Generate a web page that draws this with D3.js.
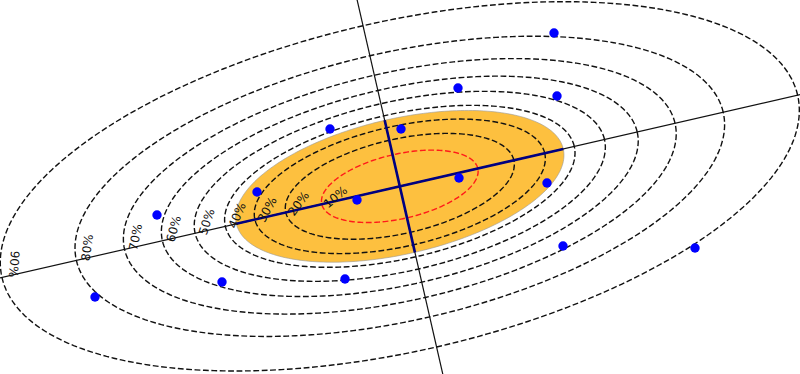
<!DOCTYPE html>
<html>
<head>
<meta charset="utf-8">
<script src="https://cdn.jsdelivr.net/npm/d3@7"></script>
<style>
  html, body { margin: 0; padding: 0; background: #fff; }
  svg { display: block; }
  .lbl { font-family: "DejaVu Sans", sans-serif; font-size: 12px; fill: #111; }
</style>
</head>
<body>
<div id="chart"></div>
<script>
// sample points (data units)
var xVals = [1.54, 0.58, 1.57, -0.70, 0.01, -1.43, 0.59, 1.47, -0.43, -2.43, 1.63, 2.95, -0.55, -1.78, -3.05];
var yVals = [1.53, 0.98, 0.90, 0.57, 0.57, -0.06, 0.08, 0.03, -0.14, -0.29, -0.60, -0.62, -0.93, -0.96, -1.11];
// prediction ellipse levels
var levels = [0.1, 0.2, 0.3, 0.4, 0.5, 0.6, 0.7, 0.8, 0.9];
var levelLabels = ["10%", "20%", "30%", "40%", "50%", "60%", "70%", "80%", "90%"];

var width = 800, height = 374;

var svg = d3.select("#chart").append("svg")
    .attr("width", width)
    .attr("height", height);

var x = d3.scaleLinear().domain([-4, 4]).range([0, width]);
var y = d3.scaleLinear().domain([-1.88, 1.86]).range([height, 0]);

// mean + covariance
var n = xVals.length;
var mx = d3.mean(xVals), my = d3.mean(yVals);
var sxx = 0, syy = 0, sxy = 0;
for (var i = 0; i < n; i++) {
  var dx = xVals[i] - mx, dy = yVals[i] - my;
  sxx += dx * dx; syy += dy * dy; sxy += dx * dy;
}
sxx /= (n - 1); syy /= (n - 1); sxy /= (n - 1);

var half = (sxx + syy) / 2;
var root = Math.sqrt(Math.pow((sxx - syy) / 2, 2) + sxy * sxy);
var l1 = half + root, l2 = half - root;
var theta = 0.5 * Math.atan2(2 * sxy, sxx - syy);
var e1 = [Math.cos(theta), Math.sin(theta)];
var e2 = [-Math.sin(theta), Math.cos(theta)];

// F(2, n-2) quantile
function fq(p) {
  var m = n - 2;
  return (m / 2) * (Math.pow(1 - p, -2 / m) - 1);
}

function ellPoint(ra, rb, t) {
  return [mx + ra * Math.cos(t) * e1[0] + rb * Math.sin(t) * e2[0],
          my + ra * Math.cos(t) * e1[1] + rb * Math.sin(t) * e2[1]];
}

function ellipsePts(ra, rb) {
  return d3.range(0, 240).map(function(k) { return ellPoint(ra, rb, k / 240 * 2 * Math.PI); });
}

var line = d3.line()
    .x(function(d) { return x(d[0]); })
    .y(function(d) { return y(d[1]); })
    .curve(d3.curveLinearClosed);

// 1 sd ellipse (population sd)
var bias = Math.sqrt((n - 1) / n);
var sd1 = Math.sqrt(l1), sd2 = Math.sqrt(l2);
svg.append("path")
    .attr("d", line(ellipsePts(sd1 * bias, sd2 * bias)))
    .attr("fill", "#fdc03f")
    .attr("stroke", "#999")
    .attr("stroke-width", 0.6);

var rings = levels.map(function(p, k) {
  var s = Math.sqrt(2 * fq(p));
  return { p: p, label: levelLabels[k], ra: s * sd1, rb: s * sd2 };
});

svg.selectAll(".ring")
  .data(rings)
  .enter().append("path")
    .attr("class", "ring")
    .attr("d", function(d) { return line(ellipsePts(d.ra, d.rb)); })
    .attr("fill", "none")
    .attr("stroke", function(d) { return d.p === 0.1 ? "#ff1a1a" : "#111"; })
    .attr("stroke-width", 1.4)
    .attr("stroke-dasharray", "5.8,2.6");

// principal axes, full length
var L = 20;
[e1, e2].forEach(function(e) {
  svg.append("line")
      .attr("x1", x(mx - L * e[0])).attr("y1", y(my - L * e[1]))
      .attr("x2", x(mx + L * e[0])).attr("y2", y(my + L * e[1]))
      .attr("stroke", "#111")
      .attr("stroke-width", 1.2);
});

// axes inside the 1 sd ellipse
[[e1, sd1 * bias], [e2, sd2 * bias]].forEach(function(a) {
  var e = a[0], r = a[1];
  svg.append("line")
      .attr("x1", x(mx - r * e[0])).attr("y1", y(my - r * e[1]))
      .attr("x2", x(mx + r * e[0])).attr("y2", y(my + r * e[1]))
      .attr("stroke", "#000080")
      .attr("stroke-width", 2.6);
});

svg.selectAll(".pt")
  .data(d3.range(n))
  .enter().append("circle")
    .attr("class", "pt")
    .attr("cx", function(i) { return x(xVals[i]); })
    .attr("cy", function(i) { return y(yVals[i]); })
    .attr("r", 4.7)
    .attr("fill", "#0000ff");

// labels: just inside each ring, a little above the major axis
var pxPerUnit = x(1) - x(0);
function ringT(d, h) {
  return Math.PI - Math.asin(Math.min(0.9, h / (d.rb * pxPerUnit)));
}
function tangentAngle(d, t) {
  var a = ellPoint(d.ra, d.rb, t), b = ellPoint(d.ra, d.rb, t - 0.005);
  return Math.atan2(y(b[1]) - y(a[1]), x(b[0]) - x(a[0]));
}
rings.forEach(function(d) {
  var tp = ringT(d, 13);
  var q = ellPoint(d.ra, d.rb, tp);
  var tn = tangentAngle(d, tp);
  var ang = tangentAngle(d, ringT(d, 20)) * 180 / Math.PI;
  var inset = 12;
  if (ang < -85) { ang += 180; inset = 14; }
  // inward normal (tangent runs upward on the left side, inside is to its right)
  var cxp = x(q[0]) - inset * Math.sin(tn), cyp = y(q[1]) + inset * Math.cos(tn);
  svg.append("text")
      .attr("class", "lbl")
      .attr("transform", "translate(" + cxp + "," + cyp + ") rotate(" + ang + ")")
      .attr("text-anchor", "middle")
      .attr("dy", "0.36em")
      .text(d.label);
});
</script>
</body>
</html>
